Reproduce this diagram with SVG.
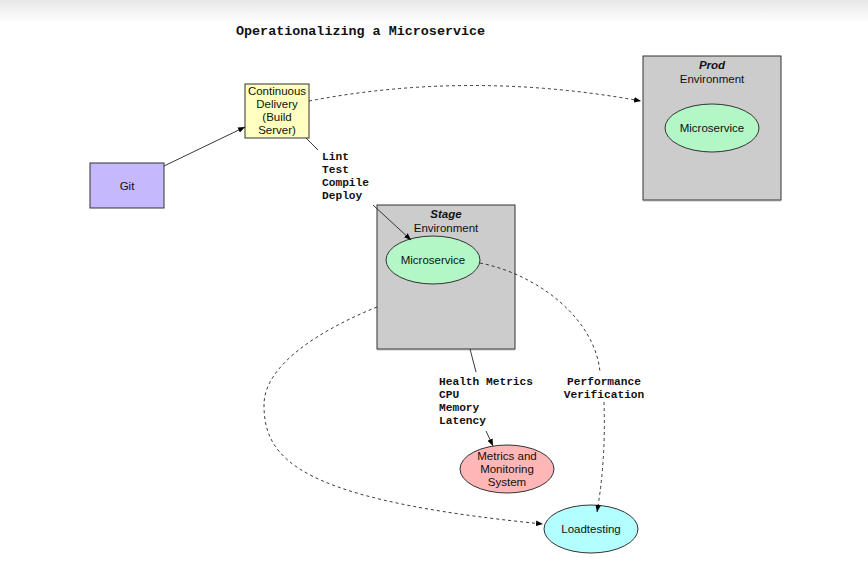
<svg xmlns="http://www.w3.org/2000/svg" width="868" height="569" viewBox="0 0 868 569">
<defs>
<linearGradient id="topfade" x1="0" y1="0" x2="0" y2="1">
<stop offset="0" stop-color="#e6e6e6"/>
<stop offset="1" stop-color="#ffffff"/>
</linearGradient>
<marker id="arr" viewBox="0 0 10 10" refX="10" refY="5" markerWidth="7" markerHeight="7" orient="auto" markerUnits="userSpaceOnUse">
<path d="M0,1 L10,5 L0,9 z" fill="#000"/>
</marker>
</defs>
<style>
.sans{font-family:"Liberation Sans",Arial,sans-serif;font-size:11.5px;fill:#111;text-anchor:middle}
.mono{font-family:"Liberation Mono","Courier New",monospace;font-size:11.2px;font-weight:bold;fill:#111}
.box{stroke:#333;stroke-width:1}
.env{fill:#cccccc;stroke:#333;stroke-width:1}
.ell{stroke:#333;stroke-width:1}
.line{fill:none;stroke:#222;stroke-width:0.9}
.dash{fill:none;stroke:#222;stroke-width:0.9;stroke-dasharray:3,3}
</style>
<rect x="0" y="0" width="868" height="569" fill="#fff"/>
<rect x="0" y="0" width="868" height="22" fill="url(#topfade)"/>
<text x="236" y="35" font-family="Liberation Mono,'Courier New',monospace" font-size="13.4" font-weight="bold" fill="#111">Operationalizing a Microservice</text>

<g id="git">
<rect class="box" x="90" y="163" width="74" height="45" fill="#c5b8fc"/>
<text class="sans" x="127" y="190">Git</text>
</g>
<g id="cd">
<rect class="box" x="245" y="84" width="64" height="54" fill="#ffffc0"/>
<text class="sans" x="277" y="95">Continuous</text>
<text class="sans" x="277" y="108">Delivery</text>
<text class="sans" x="277" y="121">(Build</text>
<text class="sans" x="277" y="134">Server)</text>
</g>
<g id="prod">
<rect class="env" x="643" y="56" width="138" height="144"/>
<line x1="643" y1="200.5" x2="781" y2="200.5" stroke="#888" stroke-width="1.5"/>
<text class="sans" x="712" y="69" font-weight="bold" font-style="italic">Prod</text>
<text class="sans" x="712" y="83">Environment</text>
</g>
<g id="prod-ms">
<ellipse class="ell" cx="712" cy="128" rx="47" ry="24" fill="#b3f7c6"/>
<text class="sans" x="712" y="132">Microservice</text>
</g>
<g id="stage">
<rect class="env" x="377" y="205" width="138" height="144"/>
<line x1="377" y1="349.5" x2="515" y2="349.5" stroke="#888" stroke-width="1.5"/>
<text class="sans" x="446" y="218" font-weight="bold" font-style="italic">Stage</text>
<text class="sans" x="446" y="232">Environment</text>
</g>
<g id="stage-ms">
<ellipse class="ell" cx="433" cy="260" rx="47" ry="24" fill="#b3f7c6"/>
<text class="sans" x="433" y="264">Microservice</text>
</g>
<g id="metrics">
<ellipse class="ell" cx="507" cy="469" rx="47" ry="24" fill="#ffb6b6"/>
<text class="sans" x="507" y="460">Metrics and</text>
<text class="sans" x="507" y="473">Monitoring</text>
<text class="sans" x="507" y="486">System</text>
</g>
<g id="loadtesting">
<ellipse class="ell" cx="591" cy="529" rx="47" ry="24" fill="#b3ffff"/>
<text class="sans" x="591" y="533">Loadtesting</text>
</g>

<g id="connectors">
<line class="line" x1="164" y1="166" x2="245" y2="127" marker-end="url(#arr)"/>
<path class="dash" d="M309,101 Q470,70 641,101" marker-end="url(#arr)"/>
<line class="line" x1="306" y1="138" x2="318" y2="150"/>
<line class="line" x1="373" y1="205" x2="411" y2="240" marker-end="url(#arr)"/>
<line class="line" x1="470" y1="349" x2="476" y2="372"/>
<line class="line" x1="486" y1="431" x2="493" y2="446" marker-end="url(#arr)"/>
<path class="dash" d="M480,263 C540,275 595,320 600,372"/>
<path class="dash" d="M604,402 Q606,460 597,512" marker-end="url(#arr)"/>
<path class="dash" d="M377,307 C320,330 264,365 264,405 C264,460 300,500 543,524" marker-end="url(#arr)"/>
</g>

<g id="labels">
<text class="mono" x="322" y="160">Lint</text>
<text class="mono" x="322" y="173">Test</text>
<text class="mono" x="322" y="186">Compile</text>
<text class="mono" x="322" y="199">Deploy</text>
<text class="mono" x="439" y="385">Health Metrics</text>
<text class="mono" x="439" y="398">CPU</text>
<text class="mono" x="439" y="411">Memory</text>
<text class="mono" x="439" y="424">Latency</text>
<text class="mono" x="604" y="385" text-anchor="middle">Performance</text>
<text class="mono" x="604" y="398" text-anchor="middle">Verification</text>
</g>
</svg>
